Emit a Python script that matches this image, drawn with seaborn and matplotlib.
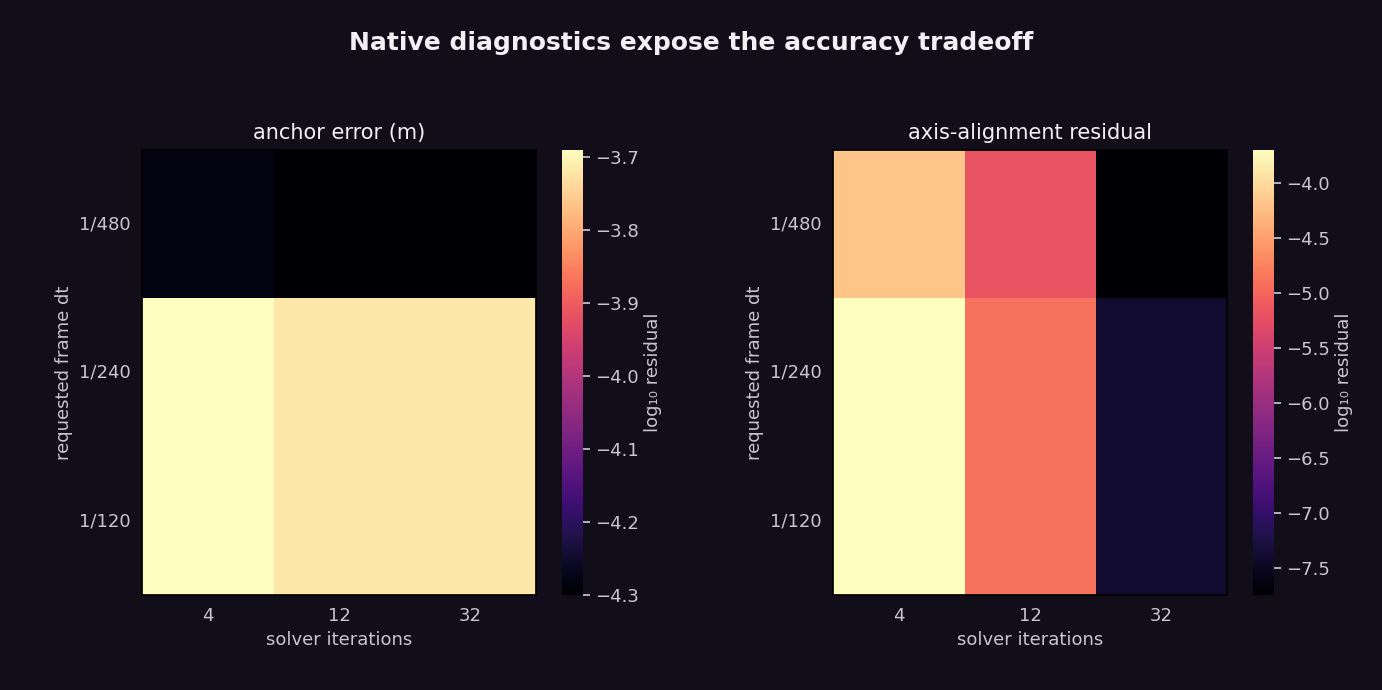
import numpy as np
import pandas as pd
import matplotlib
matplotlib.use("Agg")
import matplotlib.pyplot as plt
import seaborn as sns

# --- data (log10 residuals) ---
iterations = ["4", "12", "32"]
frame_dt = ["1/480", "1/240", "1/120"]
anchor_err = [
    [-4.28, -4.30, -4.30],
    [-3.69, -3.72, -3.72],
    [-3.69, -3.72, -3.72],
]
axis_resid = [
    [-4.20, -5.20, -7.75],
    [-3.70, -4.90, -7.40],
    [-3.70, -4.90, -7.40],
]

BG = "#110e19"
FG = "#f2f0f5"
TICK = "#c9c5d2"

sns.set_theme(style="dark")
plt.rcParams.update({
    "figure.facecolor": BG, "axes.facecolor": BG, "savefig.facecolor": BG,
    "text.color": FG, "axes.labelcolor": TICK, "xtick.color": TICK, "ytick.color": TICK,
    "font.size": 13,
})
plt.rcParams["font.family"] = ["DejaVu Sans"]

fig = plt.figure(figsize=(13.82, 6.9), dpi=100)
fig.suptitle("Native diagnostics expose the accuracy tradeoff", fontsize=18,
             fontweight="bold", color=FG, y=0.955)

panels = [
    (anchor_err, "anchor error (m)", [0.103, 0.137, 0.285, 0.646], [0.407, 0.137, 0.015, 0.646]),
    (axis_resid, "axis-alignment residual", [0.603, 0.137, 0.285, 0.646], [0.907, 0.137, 0.015, 0.646]),
]
for vals, title, rect, crect in panels:
    ax = fig.add_axes(rect)
    cax = fig.add_axes(crect)
    df = pd.DataFrame(vals, index=frame_dt, columns=iterations)
    sns.heatmap(df, ax=ax, cbar_ax=cax, cmap="magma",
                cbar_kws={"label": "log₁₀ residual"})
    ax.set_title(title, fontsize=15, color=FG, pad=8)
    ax.set_xlabel("solver iterations", fontsize=13)
    ax.set_ylabel("requested frame dt", fontsize=13)
    ax.tick_params(axis="y", rotation=0, labelsize=13, length=5, color=TICK)
    ax.tick_params(axis="x", labelsize=13, length=5, color=TICK)
    for s in ax.spines.values():
        s.set_visible(True)
        s.set_color("black")
    cax.tick_params(labelsize=13, length=5, color=TICK, colors=TICK)
    cax.yaxis.label.set_color(TICK)
    cax.yaxis.label.set_size(13)

fig.savefig("out.png", dpi=100)
